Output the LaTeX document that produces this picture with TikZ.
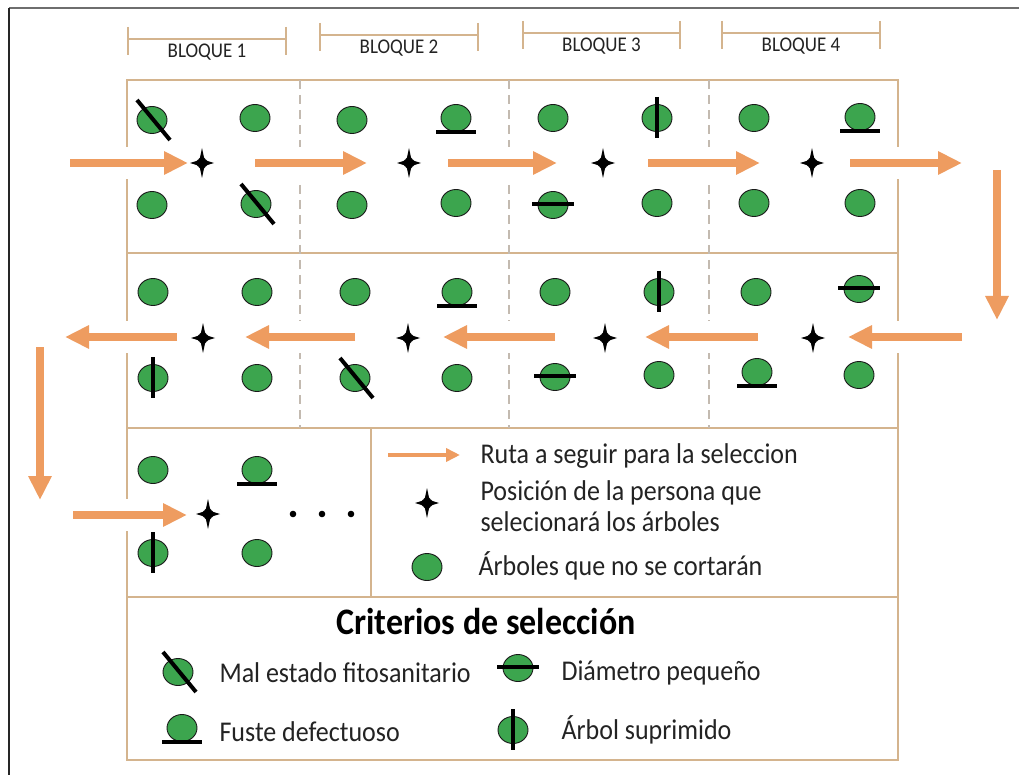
\documentclass[tikz,border=0pt]{standalone}
\usepackage{fontspec}
\setmainfont{Carlito}
\usetikzlibrary{shapes.geometric,arrows.meta}
\definecolor{routec}{RGB}{238,156,96}
\definecolor{treec}{RGB}{60,165,78}
\definecolor{gridc}{RGB}{212,180,142}
\definecolor{dashc}{RGB}{195,186,176}
\definecolor{framec}{RGB}{110,110,110}
\definecolor{txtc}{RGB}{35,35,35}
\newcommand{\vstretch}[1]{\scalebox{1}[1.1]{#1}}
\tikzset{
  gridline/.style={draw=gridc, line width=1.5},
  dashline/.style={draw=dashc, line width=1.5, dash pattern=on 9 off 6},
  route/.style={draw=routec, line width=8, -{Triangle[length=24,width=22]},
    preaction={draw=white, line width=32, arrows=-}},
  smallroute/.style={draw=routec, line width=3.5, -{Triangle[length=14,width=13]}},
  treebody/.style={ellipse, draw=black!90, fill=treec, minimum width=30, minimum height=27, inner sep=0pt, line width=0.9},
  cut/.style={draw=black, line width=4},
  bracket/.style={draw=gridc, line width=1.5},
  blq/.style={font=\fontsize{19}{22}\selectfont, text=txtc, anchor=base},
  legtext/.style={font=\fontsize{26}{31}\selectfont, text=txtc, anchor=base west},
  tree/.pic={\node[treebody] (-t) at (0,0) {};},
  mal/.pic={\node[treebody] (-t) at (0,0) {}; \draw[cut] (-15,-20) -- (18,20);},
  fuste/.pic={\node[treebody] (-t) at (0,0) {}; \draw[cut] (-20,14) -- (20,14);},
  diam/.pic={\node[treebody] (-t) at (0,0) {}; \draw[cut] (-21,-1) -- (21,-1);},
  supr/.pic={\node[treebody] (-t) at (0,0) {}; \draw[cut] (0,-21) -- (0,20);},
  person/.pic={\fill[black] (0,-15) -- (2,-5.5) -- (3.6,-3.6) -- (5.5,-2) -- (12,0) -- (5.5,2) -- (3.6,3.6) -- (2,5.5) -- (0,15) -- (-2,5.5) -- (-3.6,3.6) -- (-5.5,2) -- (-12,0) -- (-5.5,-2) -- (-3.6,-3.6) -- (-2,-5.5) -- cycle;},
}
\begin{document}
\begin{tikzpicture}[x=1pt, y=-1pt]
\useasboundingbox (0,0) rectangle (1019,775);
% frame
\draw[framec, line width=2] (9,8.5) -- (1019,8.5);
\draw[black!85, line width=1.5] (9,8) -- (9,775);

% block brackets
\foreach \a/\b/\y/\n in {128/286/39/1, 320/478/35/2, 523/680/33/3, 722/880/33/4}{
  \draw[bracket] (\a,\y-12) -- (\a,\y+16) (\a,\y) -- (\b,\y) (\b,\y-12) -- (\b,\y+16);
  \node[blq] (blq\n) at ({(\a+\b)/2},\y+19) {\vstretch{BLOQUE \n}};
}

% grid
\draw[gridline] (127,80) rectangle (898,760);
\draw[gridline] (127,253) -- (898,253);
\draw[gridline] (127,428) -- (898,428);
\draw[gridline] (127,597) -- (898,597);
\draw[gridline] (371,428) -- (371,597);
\draw[dashline] (300,80) -- (300,428);
\draw[dashline] (509,80) -- (509,428);
\draw[dashline] (709,80) -- (709,428);

% route arrows
\draw[route] (70,163) -- (188,163);
\draw[route] (255,163) -- (367,163);
\draw[route] (448,163) -- (557,163);
\draw[route] (648,163) -- (760,163);
\draw[route] (850,163) -- (962,163);
\draw[route] (997,170) -- (997,320);
\draw[route] (962,337) -- (848,337);
\draw[route] (758,337) -- (645,337);
\draw[route] (555,337) -- (443,337);
\draw[route] (355,337) -- (245,337);
\draw[route] (177,337) -- (65,337);
\draw[route] (40,347) -- (40,500);
\draw[route] (73,515) -- (187,515);

% row 1 trees
\pic (a1) at (152,120) {mal};   \pic (a2) at (255,118) {tree};
\pic (a3) at (152,205) {tree};  \pic (a4) at (256,204) {mal};
\pic (b1) at (352,120) {tree};  \pic (b2) at (456,118) {fuste};
\pic (b3) at (352,205) {tree};  \pic (b4) at (456,203) {tree};
\pic (c1) at (553,118) {tree};  \pic (c2) at (657,118) {supr};
\pic (c3) at (553,205) {diam};  \pic (c4) at (657,203) {tree};
\pic (d1) at (754,118) {tree};  \pic (d2) at (860,117) {fuste};
\pic (d3) at (754,203) {tree};  \pic (d4) at (860,203) {tree};
% row 2 trees
\pic (e1) at (153,292) {tree};  \pic (e2) at (257,292) {tree};
\pic (e3) at (153,378) {supr};  \pic (e4) at (257,378) {tree};
\pic (f1) at (355,292) {tree};  \pic (f2) at (457,292) {fuste};
\pic (f3) at (355,378) {mal};   \pic (f4) at (457,378) {tree};
\pic (g1) at (555,292) {tree};  \pic (g2) at (659,292) {supr};
\pic (g3) at (555,377) {diam};  \pic (g4) at (659,375) {tree};
\pic (h1) at (756,292) {tree};  \pic (h2) at (859,289) {diam};
\pic (h3) at (757,372) {fuste}; \pic (h4) at (859,375) {tree};
% row 3 trees
\pic (k1) at (153,470) {tree};  \pic (k2) at (257,470) {fuste};
\pic (k3) at (153,553) {supr};  \pic (k4) at (257,553) {tree};

% persons
\pic (p1) at (202,163) {person};
\pic (p2) at (409,163) {person};
\pic (p3) at (603,163) {person};
\pic (p4) at (812,163) {person};
\pic (p5) at (203,338) {person};
\pic (p6) at (408,338) {person};
\pic (p7) at (605,338) {person};
\pic (p8) at (813,338) {person};
\pic (p9) at (208,514) {person};

% dots
\foreach \x [count=\i] in {293,322,351}{\fill[black] (\x,514) circle (3.3);}

% legend
\coordinate (lg1) at (388,455);
\coordinate (lg2) at (460,455);
\draw[smallroute] (lg1) -- (lg2);
\node[legtext] (ruta) at (477,463) {\vstretch{Ruta a seguir para la seleccion}};
\pic (lp) at (427,503) {person};
\node[legtext] (pos1) at (477,500) {\vstretch{Posición de la persona que}};
\node[legtext] (pos2) at (477,531) {\vstretch{selecionará los árboles}};
\pic (lt) at (427,567) {tree};
\node[legtext] (arb) at (475,575) {\vstretch{Árboles que no se cortarán}};

% criteria
\node[font=\fontsize{34}{40}\selectfont\bfseries, text=black, anchor=base] (crit) at (486,634) {\vstretch{Criterios de selección}};
\pic (m1) at (178,672) {mal};
\node[legtext] (mal) at (216,682) {\vstretch{Mal estado fitosanitario}};
\pic (m2) at (518,668) {diam};
\node[legtext] (dia) at (558,680) {\vstretch{Diámetro pequeño}};
\pic (m3) at (182,728) {fuste};
\node[legtext] (fus) at (216,741) {\vstretch{Fuste defectuoso}};
\pic (m4) at (513,730) {supr};
\node[legtext] (sup) at (558,739) {\vstretch{Árbol suprimido}};
\end{tikzpicture}
\end{document}
